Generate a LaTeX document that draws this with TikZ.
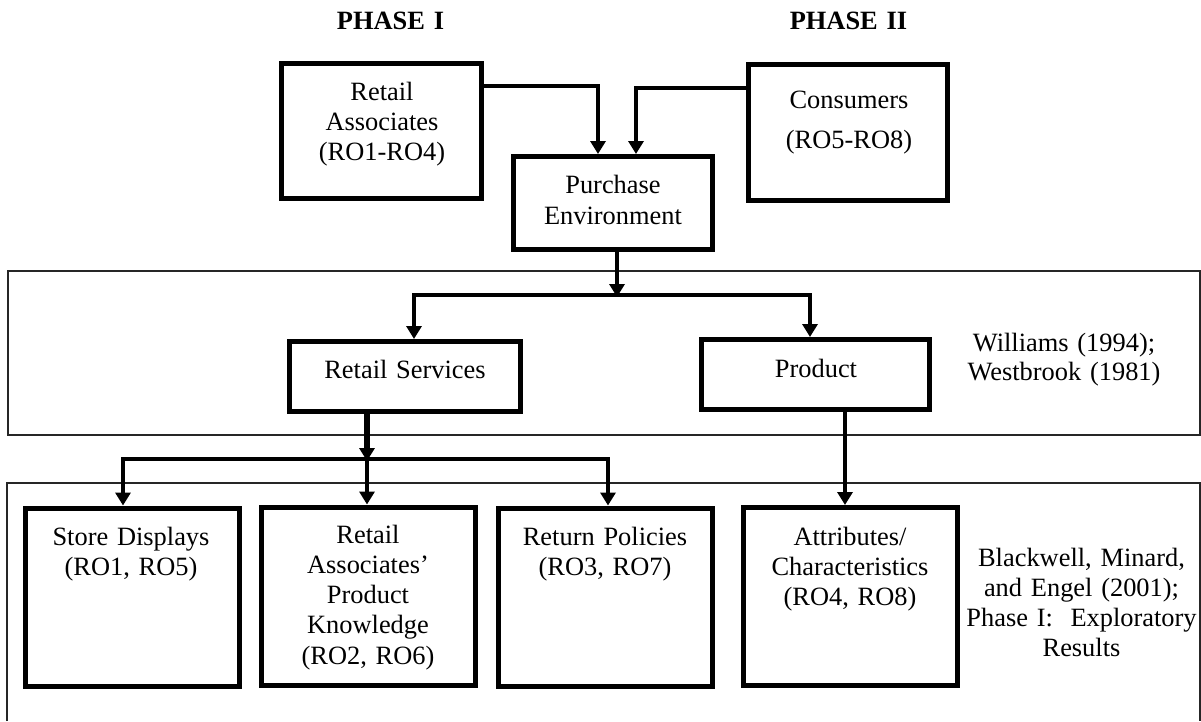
\documentclass[tikz,border=0pt]{standalone}
\usepackage{fontspec}
\setmainfont{Liberation Serif}
\usetikzlibrary{arrows.meta}
\frenchspacing
\begin{document}
\begin{tikzpicture}[x=1pt,y=-1pt,
  box/.style={draw=black,line width=5pt,inner sep=0pt,rectangle},
  lowbox/.style={box,minimum width=214pt,minimum height=178pt},
  txt/.style={anchor=base,inner sep=0pt,text width=280pt,align=center,
    font=\fontsize{26.4}{30.3}\selectfont},
  title/.style={txt,font=\fontsize{26.4}{30}\selectfont\bfseries},
  frame/.style={draw=black!85,line width=2pt},
  arr/.style={draw=black,line width=4.5pt,-{Triangle[length=13pt,width=15pt]}}]
\useasboundingbox (0,0) rectangle (1201,721);

% frames
\draw[frame] (8,271) rectangle (1200,435);
\draw[frame] (7,721) -- (7,483) -- (1200,483) -- (1200,721);

% titles
\node[title] (p1) at (390.5,29) {PHASE I};
\node[title] (p2) at (848.5,29) {PHASE II};

% boxes
\node[box,minimum width=200pt,minimum height=135pt] (RA) at (381.5,131) {};
\node[box,minimum width=199pt,minimum height=136pt] (CO) at (848,132.5) {};
\node[box,minimum width=199pt,minimum height=93pt] (PE) at (613,203) {};
\node[box,minimum width=231pt,minimum height=70pt] (RS) at (405,376.5) {};
\node[box,minimum width=228pt,minimum height=70pt] (PR) at (815.5,374.5) {};
\node[lowbox] (SD) at (132,597) {};
\node[lowbox] (RK) at (368.5,596) {};
\node[lowbox] (RP) at (605.5,597) {};
\node[lowbox] (AT) at (850.5,596.5) {};

% texts
\node[txt] (tRA) at (382,100) {Retail\\Associates\\(RO1-RO4)};
\node[txt] (tCO) at (849,108) {Consumers\\[10pt](RO5-RO8)};
\node[txt] (tPE) at (613,193) {Purchase\\[1pt]Environment};
\node[txt] (tRS) at (405,378) {Retail Services};
\node[txt] (tPR) at (816,377) {Product};
\node[txt] (tW) at (1064,351) {Williams (1994);\\[-1pt]Westbrook (1981)};
\node[txt] (tSD) at (131,545) {Store Displays\\(RO1, RO5)};
\node[txt] (tRK) at (368,543) {Retail\\Associates’\\Product\\Knowledge\\(RO2, RO6)};
\node[txt] (tRP) at (605,545) {Return Policies\\(RO3, RO7)};
\node[txt] (tAT) at (850,545) {Attributes/\\Characteristics\\(RO4, RO8)};
\node[txt] (tB) at (1081.5,566) {Blackwell, Minard,\\and Engel (2001);\\Phase I:\ \ Exploratory\\Results};

% junction coordinates
\coordinate (j1) at (598,86);
\coordinate (j2) at (636,88);
\coordinate (j3) at (617,295);
\coordinate (b1) at (414,295);
\coordinate (b2) at (810,295);
\coordinate (j4) at (367,459);
\coordinate (c1) at (123,459);
\coordinate (c3) at (608,459);
\coordinate (j5) at (845,420);

% connectors
\draw[arr] (RA.east |- j1) -| (PE.north -| j1);
\draw[arr] (CO.west |- j2) -| (PE.north -| j2);
\draw[arr] (PE.south -| j3) -- ([yshift=-2pt]j3);
\draw[arr] (j3) -| (RS.north -| b1);
\draw[arr] (j3) -| (PR.north -| b2);
\draw[arr,line width=6pt] (RS.south -| j4) -- ([yshift=-2pt]j4);
\draw[arr] (j4) -| (SD.north -| c1);
\draw[arr] (j4) -- (RK.north -| j4);
\draw[arr] (j4) -| (RP.north -| c3);
\draw[arr] (PR.south -| j5) -- (AT.north -| j5);
\end{tikzpicture}
\end{document}
